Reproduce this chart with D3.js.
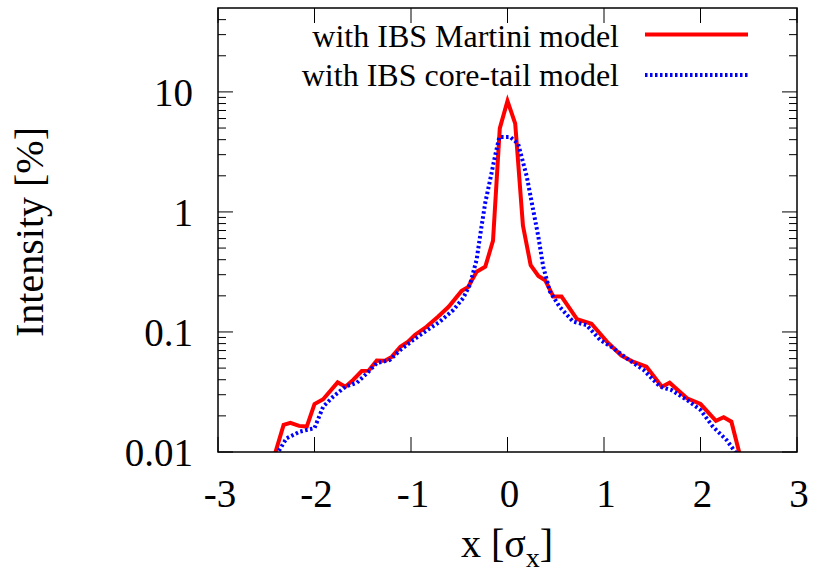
<!DOCTYPE html>
<html><head><meta charset="utf-8">
<script src="https://cdn.jsdelivr.net/npm/d3@7"></script>
<style>body{margin:0;background:#fff}svg{display:block}text{font-family:"Liberation Serif","Times New Roman",serif;fill:#000}</style>
</head><body><svg id="c" width="813" height="575"></svg>
<script>
const martiniX = [-2.44,-2.32,-2.25,-2.16,-2.08,-2.00,-1.91,-1.76,-1.68,-1.60,-1.51,-1.44,-1.355,-1.27,-1.20,-1.11,-1.03,-0.96,-0.84,-0.72,-0.61,-0.475,-0.41,-0.32,-0.23,-0.15,-0.08,0.0,0.08,0.16,0.24,0.32,0.39,0.475,0.56,0.72,0.87,1.03,1.18,1.30,1.44,1.60,1.68,1.86,2.00,2.16,2.24,2.32,2.40,2.46];
const martiniY = [0.008,0.0168,0.0175,0.0165,0.0163,0.0251,0.0275,0.038,0.035,0.0398,0.0473,0.0476,0.0577,0.0575,0.062,0.0753,0.083,0.0944,0.1105,0.134,0.162,0.22,0.236,0.318,0.35,0.576,4.97,8.4,5.45,0.77,0.36,0.293,0.27,0.197,0.197,0.128,0.117,0.083,0.0636,0.0565,0.0514,0.035,0.0378,0.028,0.0251,0.0182,0.0195,0.0179,0.01,0.006];
const coreTailX = [-2.45,-2.29,-2.15,-2.00,-1.91,-1.805,-1.68,-1.56,-1.46,-1.355,-1.22,-1.11,-0.976,-0.84,-0.70,-0.56,-0.46,-0.39,-0.32,-0.27,-0.23,-0.18,-0.13,-0.085,0.0,0.03,0.11,0.20,0.27,0.32,0.37,0.44,0.54,0.68,0.82,0.96,1.10,1.235,1.41,1.58,1.70,1.86,2.00,2.13,2.27,2.36,2.42];
const coreTailY = [0.008,0.013,0.0148,0.0158,0.0239,0.029,0.035,0.0378,0.045,0.055,0.0584,0.0707,0.0858,0.1025,0.122,0.153,0.191,0.247,0.40,0.75,1.2,1.85,2.9,4.2,4.2,4.2,3.7,1.97,1.0,0.62,0.35,0.217,0.162,0.122,0.114,0.0858,0.073,0.0603,0.0483,0.035,0.0328,0.0271,0.0224,0.0162,0.0126,0.01,0.008];
const xTicks = [-3,-2,-1,0,1,2,3];
const xTickLabels = ["-3","-2","-1","0","1","2","3"];
const yTicks = [0.01,0.1,1,10];
const yTickLabels = ["0.01","0.1","1","10"];
const seriesNames = ["with IBS Martini model","with IBS core-tail model"];

const svg = d3.select("#c");
const L=218,R=797,T=8,B=452;
const x = d3.scaleLinear().domain([-3,3]).range([L,R]);
const y = d3.scaleLog().domain([0.01,50]).range([B,T]);

svg.append("clipPath").attr("id","clip").append("rect").attr("x",L).attr("y",T).attr("width",R-L).attr("height",B-T);

const minor=[];
[0.01,0.1,1,10].forEach(d=>{for(let k=2;k<=9;k++){const v=d*k; if(v<50) minor.push(v);}});
const g = svg.append("g");
minor.forEach(v=>{
  g.append("line").attr("x1",L).attr("x2",L+8).attr("y1",y(v)).attr("y2",y(v)).attr("stroke","#000").attr("stroke-width",1);
  g.append("line").attr("x1",R).attr("x2",R-8).attr("y1",y(v)).attr("y2",y(v)).attr("stroke","#000").attr("stroke-width",1);
});
yTicks.forEach((v,i)=>{
  g.append("line").attr("x1",L).attr("x2",L+15).attr("y1",y(v)).attr("y2",y(v)).attr("stroke","#000").attr("stroke-width",1);
  g.append("line").attr("x1",R).attr("x2",R-15).attr("y1",y(v)).attr("y2",y(v)).attr("stroke","#000").attr("stroke-width",1);
  g.append("text").attr("x",193).attr("y",y(v)+14).attr("text-anchor","end").attr("font-size",39).text(yTickLabels[i]);
});
xTicks.forEach((v,i)=>{
  g.append("line").attr("x1",x(v)).attr("x2",x(v)).attr("y1",B).attr("y2",B-15).attr("stroke","#000").attr("stroke-width",1);
  g.append("line").attr("x1",x(v)).attr("x2",x(v)).attr("y1",T).attr("y2",T+15).attr("stroke","#000").attr("stroke-width",1);
  g.append("text").attr("x",x(v)+2).attr("y",507).attr("text-anchor","middle").attr("font-size",39).text(xTickLabels[i]);
});

const line = d3.line().x(d=>x(d[0])).y(d=>y(d[1]));
const redData = martiniX.map((v,i)=>[v,martiniY[i]]);
const blueData = coreTailX.map((v,i)=>[v,coreTailY[i]]);
const plot = svg.append("g").attr("clip-path","url(#clip)");
plot.append("path").attr("d",line(redData)).attr("fill","none").attr("stroke","#ff0000").attr("stroke-width",4).attr("stroke-linejoin","miter");
plot.append("path").attr("d",line(blueData)).attr("fill","none").attr("stroke","#0000ff").attr("stroke-width",4).attr("stroke-dasharray","2.5,2.5");

svg.append("rect").attr("x",L).attr("y",T).attr("width",R-L).attr("height",B-T).attr("fill","none").attr("stroke","#000").attr("stroke-width",1.5);

const lg = svg.append("g");
lg.append("text").attr("x",619).attr("y",47).attr("text-anchor","end").attr("font-size",32).text(seriesNames[0]);
lg.append("text").attr("x",619).attr("y",86).attr("text-anchor","end").attr("font-size",32).text(seriesNames[1]);
lg.append("line").attr("x1",645).attr("x2",748).attr("y1",34.5).attr("y2",34.5).attr("stroke","#ff0000").attr("stroke-width",4);
lg.append("line").attr("x1",645).attr("x2",748).attr("y1",75).attr("y2",75).attr("stroke","#0000ff").attr("stroke-width",4).attr("stroke-dasharray","2.5,2.5");

svg.append("text").attr("transform","translate(43,232) rotate(-90)").attr("text-anchor","middle").attr("font-size",40).text("Intensity [%]");
const xl = svg.append("text").attr("x",507).attr("y",557).attr("text-anchor","middle").attr("font-size",40);
xl.append("tspan").text("x [σ");
xl.append("tspan").attr("font-size",28).attr("dy",10).text("x");
xl.append("tspan").attr("dy",-10).text("]");
</script></body></html>
